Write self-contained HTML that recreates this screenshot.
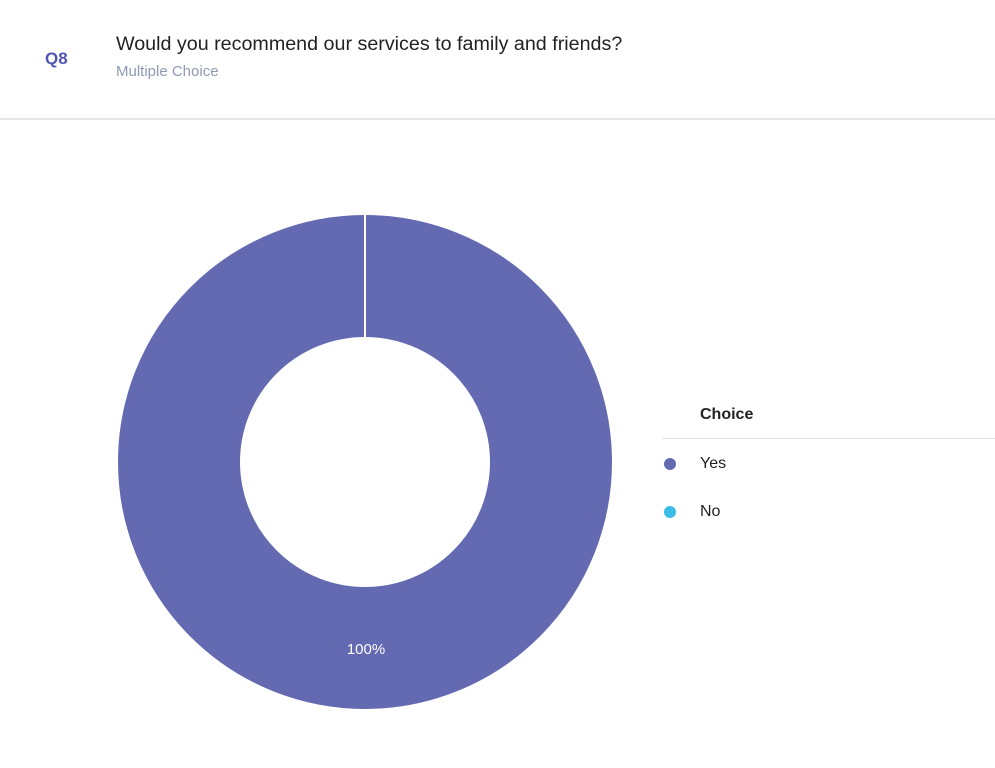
<!DOCTYPE html>
<html><head><style>
body{margin:0;width:995px;height:768px;background:#fff;font-family:"Liberation Sans",sans-serif;position:relative;overflow:hidden}
.t{position:absolute;white-space:nowrap}
</style></head><body>
<div class="t" style="left:45px;top:49px;font-size:17px;font-weight:bold;color:#4f55b0">Q8</div>
<div class="t" style="left:116px;top:33px;font-size:19.7px;color:#222">Would you recommend our services to family and friends?</div>
<div class="t" style="left:116px;top:63px;font-size:15px;color:#8f99b3">Multiple Choice</div>
<div style="position:absolute;left:0;top:118px;width:995px;height:2px;background:#e5e5ea"></div>
<svg width="995" height="768" style="position:absolute;left:0;top:0">
<circle cx="365" cy="462" r="186" fill="none" stroke="#646ab1" stroke-width="122"/>
<line x1="365" y1="214" x2="365" y2="338" stroke="#fff" stroke-width="2"/>
<text x="366" y="654" font-size="15" fill="#fff" text-anchor="middle" font-family="Liberation Sans">100%</text>
<circle cx="670" cy="464" r="6" fill="#646ab1"/>
<circle cx="670" cy="512" r="6" fill="#3bbde6"/>
</svg>
<div class="t" style="left:700px;top:406px;font-size:16px;font-weight:bold;color:#222">Choice</div>
<div style="position:absolute;left:662px;top:438px;width:333px;height:1px;background:#e2e2e6"></div>
<div class="t" style="left:700px;top:455px;font-size:16px;color:#222">Yes</div>
<div class="t" style="left:700px;top:503px;font-size:16px;color:#222">No</div>
</body></html>
